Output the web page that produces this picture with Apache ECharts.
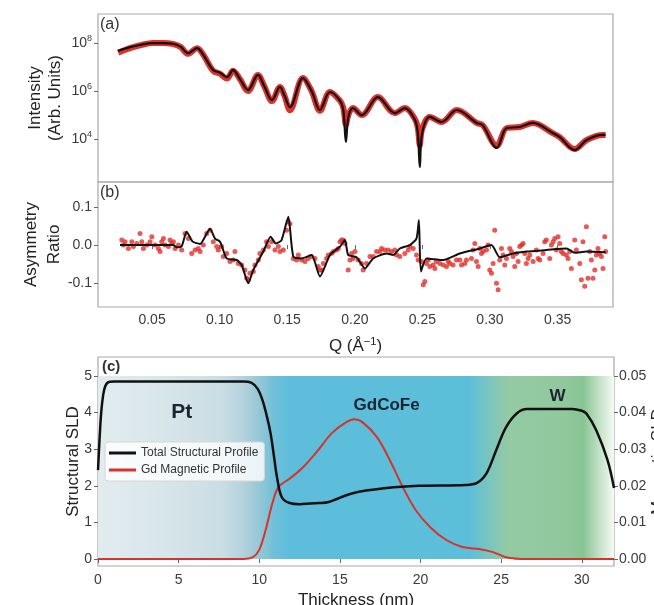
<!DOCTYPE html>
<html>
<head>
<meta charset="utf-8">
<script src="https://cdn.jsdelivr.net/npm/echarts@6/dist/echarts.min.js"></script>
<style>
html, body { margin: 0; padding: 0; background: #fff; }
#chart { width: 654px; height: 605px; }
</style>
</head>
<body>
<div id="chart"></div>
<script>
// (a) reflectivity: Q and log10(intensity)
var qFit = [0.0249,0.0337,0.042,0.0507,0.058,0.0655,0.071,0.0766,0.0833,0.088,0.0951,0.1003,0.1054,0.1099,0.115,0.121,0.1283,0.133,0.1387,0.1446,0.148,0.152,0.1616,0.168,0.1742,0.1816,0.189,0.1915,0.1934,0.1952,0.1986,0.2052,0.217,0.2296,0.237,0.244,0.2465,0.2481,0.2497,0.2555,0.2643,0.2754,0.2902,0.2946,0.305,0.3124,0.322,0.3316,0.3464,0.3516,0.3626,0.3715,0.3833,0.3855];
var logIFit = [7.67,7.83,7.93,8.0,8.0,7.97,7.85,7.58,7.79,7.5,6.88,6.76,6.58,6.87,6.5,6.04,6.67,6.2,5.62,6.17,5.8,5.33,6.54,6.0,5.21,5.96,5.6,5.2,3.88,4.9,5.29,5.0,5.75,5.08,5.29,4.85,4.3,2.83,4.2,4.92,4.71,5.21,4.67,4.58,3.63,4.46,4.5,4.67,4.25,4.08,3.54,3.96,4.17,4.17];
var qMeas = [0.0249,0.0337,0.042,0.0507,0.058,0.0655,0.071,0.0766,0.0833,0.088,0.0951,0.1003,0.1054,0.1099,0.115,0.121,0.1283,0.133,0.1387,0.1446,0.148,0.152,0.1616,0.168,0.1742,0.1816,0.189,0.1915,0.1934,0.1952,0.1986,0.2052,0.217,0.2296,0.237,0.244,0.2465,0.2481,0.2497,0.2555,0.2643,0.2754,0.2902,0.2946,0.305,0.3124,0.322,0.3316,0.3464,0.3516,0.3626,0.3715,0.3833,0.3855];
var logIMeas = [7.6,7.79,7.92,8.0,8.0,7.96,7.84,7.55,7.78,7.5,6.85,6.72,6.52,6.85,6.5,6.0,6.67,6.2,5.58,6.17,5.8,5.2,6.54,6.0,5.18,5.96,5.6,5.3,4.6,5.0,5.29,5.0,5.75,5.08,5.29,4.88,4.5,3.75,4.4,4.92,4.71,5.21,4.67,4.58,3.72,4.46,4.5,4.67,4.25,4.08,3.58,3.96,4.17,4.17];
var logTicks = [4, 6, 8];

// (b) asymmetry ratio
var asymFitQ = [0.0263,0.0658,0.0682,0.0719,0.0756,0.080,0.0855,0.0929,0.0966,0.1003,0.1052,0.1126,0.1163,0.1212,0.1249,0.1323,0.1377,0.1416,0.1458,0.1508,0.1545,0.1606,0.168,0.1742,0.1816,0.189,0.1927,0.1951,0.2013,0.2075,0.2136,0.2235,0.2284,0.2333,0.2407,0.2456,0.2474,0.2489,0.253,0.2654,0.2777,0.2925,0.3011,0.3072,0.3171,0.3269,0.3417,0.3565,0.3627,0.3713,0.3856];
var asymFit = [0,0,-0.006,-0.003,0.035,0.009,0.003,0.043,0.017,0.009,-0.035,-0.039,-0.052,-0.1,-0.065,-0.017,0.022,0.004,0.013,0.074,-0.03,-0.035,-0.026,-0.082,-0.026,-0.004,0.013,-0.026,-0.032,-0.061,-0.035,-0.022,-0.026,-0.009,0,0.017,0.065,-0.069,-0.035,-0.039,-0.022,-0.009,0,-0.032,-0.022,-0.017,-0.013,-0.009,-0.02,-0.017,-0.019];
var asymQ = [0.0276,0.0288,0.030,0.0325,0.035,0.0362,0.0387,0.0411,0.0424,0.0436,0.0461,0.0485,0.0498,0.0522,0.0547,0.0559,0.0571,0.0584,0.0596,0.0621,0.0633,0.0645,0.0658,0.067,0.0695,0.0719,0.0744,0.0769,0.0793,0.0818,0.0842,0.0855,0.0879,0.0904,0.0929,0.0953,0.0978,0.099,0.1015,0.1027,0.1052,0.1076,0.1101,0.1113,0.1138,0.1163,0.1187,0.12,0.1212,0.1224,0.1249,0.1261,0.1286,0.1298,0.1323,0.1347,0.136,0.1384,0.1409,0.1434,0.1446,0.1471,0.1495,0.1508,0.152,0.1545,0.1569,0.1582,0.1606,0.1631,0.1655,0.168,0.1705,0.1729,0.1742,
  0.1754,0.1767,0.1791,0.1804,0.1828,0.1841,0.1865,0.1878,0.189,0.1902,0.1914,0.1927,0.1951,0.1964,0.1976,0.1988,0.2001,0.2025,0.205,0.2062,0.2087,0.2112,0.2136,0.2161,0.2185,0.2198,0.2222,0.2247,0.2272,0.2296,0.2309,0.2333,0.237,0.2395,0.2407,0.2432,0.2456,0.2469,0.2493,0.2506,0.2518,0.253,0.2543,0.2555,0.258,0.2592,0.2604,0.2629,0.2654,0.2678,0.2691,0.2703,0.2727,0.2752,0.2777,0.2789,0.2814,0.2826,0.2863,0.2875,0.2888,0.29,0.2912,0.2925,0.2937,0.2949,0.2974,0.2986,0.2998,0.3011,0.3023,0.3035,0.3048,0.306,0.3072,0.3085,0.3097,0.3109,0.3122,0.3146,0.3159,0.3171,0.3183,0.3196,0.3208,0.322,0.3233,0.3245,0.3257,0.3269,0.3282,0.3294,0.3319,0.3343,0.3356,0.3368,0.3393,0.3405,0.3417,0.3442,0.3454,0.3467,0.3479,0.3491,0.3504,0.3516,0.3528,0.3541,0.3565,0.3577,0.359,0.3602,0.3627,0.3639,0.3664,0.3676,0.3688,0.3701,0.3713,0.3725,0.3738,0.375,0.3762,0.3775,0.3787,0.3799,0.3811,0.3824,0.3836,0.3849,0.3856];
var asymMeas = [0.013,0,0.009,-0.009,0.009,-0.004,0.004,0.03,0.009,-0.009,0,0.009,0.022,0,-0.009,-0.017,0.009,0.017,0,-0.004,0.013,0.004,0.009,-0.009,0,-0.013,0.03,0.017,-0.022,-0.013,-0.009,-0.017,0,0.03,0.039,0.009,-0.004,-0.013,-0.004,-0.03,-0.022,-0.043,-0.039,-0.017,-0.048,-0.052,-0.065,-0.087,-0.091,-0.074,-0.069,-0.052,-0.039,-0.022,-0.013,0.009,-0.004,0.009,-0.013,-0.004,-0.017,-0.013,0.039,0.061,0.056,-0.035,-0.039,-0.026,-0.039,-0.043,-0.035,-0.03,-0.035,-0.056,-0.065,
  -0.065,-0.048,-0.035,-0.026,-0.022,-0.017,-0.013,-0.009,0.009,0.013,0.013,0.004,-0.065,-0.039,-0.022,-0.035,-0.017,-0.039,-0.048,-0.065,-0.048,-0.03,-0.03,-0.017,-0.017,-0.009,-0.013,-0.013,-0.017,-0.013,-0.026,-0.03,-0.022,-0.013,-0.004,-0.009,-0.026,-0.039,-0.043,-0.104,-0.095,-0.048,-0.039,-0.056,-0.052,-0.061,-0.043,-0.048,-0.052,-0.056,-0.043,-0.048,-0.052,-0.039,-0.039,-0.052,-0.048,-0.039,-0.035,-0.013,0.004,-0.043,-0.056,-0.009,-0.022,-0.017,-0.013,0,-0.065,-0.074,-0.048,0.039,-0.1,-0.117,-0.039,-0.009,-0.026,-0.052,-0.035,-0.009,-0.017,-0.03,-0.056,-0.022,-0.043,-0.004,0,0.004,-0.022,-0.048,-0.035,-0.026,-0.043,-0.013,-0.035,-0.039,-0.022,0.009,0.013,-0.035,0,0.009,0.017,-0.013,0.022,0.004,-0.017,-0.022,-0.026,-0.035,-0.017,-0.061,0.013,-0.013,-0.048,-0.091,0.009,-0.108,0.048,-0.087,-0.017,-0.039,-0.087,-0.065,-0.026,-0.009,-0.022,-0.03,-0.061,0.022,-0.017];
var qTicks = [0.05, 0.10, 0.15, 0.20, 0.25, 0.30, 0.35];
var asymTicks = [-0.1, 0, 0.1];

// (c) depth profiles
var depthTotal = [0,0.1,0.2,0.37,0.6,1.0,5,9.0,9.5,9.9,10.2,10.5,10.7,10.9,11.1,11.4,11.9,12.5,13.7,14.3,15.8,17.9,19.9,22.8,23.5,24.1,24.7,25.3,26.0,26.6,29.4,30.0,30.3,30.9,31.6,32.0];
var sldTotal = [2.43,3.3,4.0,4.6,4.82,4.85,4.85,4.85,4.82,4.65,4.34,3.85,3.44,2.85,2.24,1.69,1.53,1.5,1.53,1.56,1.8,1.94,2.0,2.02,2.08,2.35,2.98,3.6,3.99,4.1,4.1,4.05,3.97,3.52,2.7,1.94];
var depthGd = [0,9.0,9.6,10.0,10.4,10.8,11.2,11.9,12.7,13.7,14.5,15.4,15.9,16.4,17.3,18.1,18.9,19.7,20.6,21.6,22.6,23.7,24.5,25.3,26.6,32];
var sldGd = [0,0,0.0005,0.0025,0.008,0.015,0.0197,0.022,0.025,0.03,0.0344,0.0374,0.0382,0.0374,0.0333,0.027,0.0197,0.0134,0.0087,0.0052,0.0033,0.0027,0.0019,0.0005,0,0];
var depthTicks = [0, 5, 10, 15, 20, 25, 30];
var sldTicks = [0, 1, 2, 3, 4, 5];
var magTicks = [0, 0.01, 0.02, 0.03, 0.04, 0.05];

function zip(a, b) { return a.map(function (v, i) { return [v, b[i]]; }); }

var FONT = 'Liberation Sans, Arial, sans-serif';
var tickLbl = { fontFamily: FONT, fontSize: 14, color: '#3a3a3a' };
var nameStyle = { fontFamily: FONT, fontSize: 17, color: '#222', lineHeight: 20 };

var myChart = echarts.init(document.getElementById('chart'));
var option = {
  animation: false,
  backgroundColor: '#fff',
  textStyle: { fontFamily: FONT },
  grid: [
    { left: 98, top: 14, width: 515, height: 168, outerBoundsMode: 'none', show: true, borderColor: '#a8a8a8', borderWidth: 1.2 },
    { left: 98, top: 182, width: 515, height: 125, outerBoundsMode: 'none', show: true, borderColor: '#a8a8a8', borderWidth: 1.2 },
    { left: 98, top: 357, width: 516, height: 209, outerBoundsMode: 'none', show: true, borderColor: '#a8a8a8', borderWidth: 1.2 }
  ],
  xAxis: [
    { gridIndex: 0, type: 'value', min: 0.010, max: 0.391, axisLine: { show: false }, axisTick: { show: false },
      axisLabel: { show: false }, splitLine: { show: false } },
    { gridIndex: 1, type: 'value', min: 0.010, max: 0.391, axisLine: { show: false },
      axisTick: { show: true, length: 4, lineStyle: { color: '#666' }, customValues: qTicks },
      axisLabel: Object.assign({ margin: 6, customValues: qTicks, formatter: function (v) { return v.toFixed(2); } }, tickLbl),
      splitLine: { show: false },
      name: 'Q (Å{sup|−1})', nameLocation: 'middle', nameGap: 29, nameMoveOverlap: false,
      nameTextStyle: Object.assign({ rich: { sup: { fontFamily: FONT, fontSize: 11, verticalAlign: 'top', lineHeight: 14, color: '#222' } } }, nameStyle) },
    { gridIndex: 2, type: 'value', min: 0, max: 32, axisLine: { show: false },
      axisTick: { show: true, length: 4, lineStyle: { color: '#666' }, customValues: depthTicks },
      axisLabel: Object.assign({ margin: 7, customValues: depthTicks }, tickLbl),
      splitLine: { show: false },
      name: 'Thickness (nm)', nameLocation: 'middle', nameGap: 24, nameMoveOverlap: false, nameTextStyle: nameStyle }
  ],
  yAxis: [
    { gridIndex: 0, type: 'value', min: 2.21, max: 9.21, axisLine: { show: false },
      axisTick: { show: true, length: 4, lineStyle: { color: '#666' }, customValues: logTicks },
      axisLabel: { margin: 6, customValues: logTicks, formatter: function (v) { return '{b|10}{s|' + v + '}'; },
        rich: { b: { fontFamily: FONT, fontSize: 14, color: '#3a3a3a', lineHeight: 18 },
                s: { fontFamily: FONT, fontSize: 9, color: '#3a3a3a', verticalAlign: 'top', lineHeight: 10 } } },
      splitLine: { show: false },
      name: 'Intensity\n(Arb. Units)', nameLocation: 'middle', nameRotate: 90, nameGap: 33, nameMoveOverlap: false,
      nameTextStyle: nameStyle },
    { gridIndex: 1, type: 'value', min: -0.162, max: 0.165, axisLine: { show: false },
      axisTick: { show: true, length: 4, lineStyle: { color: '#666' }, customValues: asymTicks },
      axisLabel: Object.assign({ margin: 6, customValues: asymTicks, formatter: function (v) { return v.toFixed(1); } }, tickLbl),
      splitLine: { show: false },
      name: 'Asymmetry\nRatio', nameLocation: 'middle', nameRotate: 90, nameGap: 32, nameMoveOverlap: false,
      nameTextStyle: Object.assign({}, nameStyle, { lineHeight: 23 }) },
    { gridIndex: 2, type: 'value', min: -0.19, max: 5.52, axisLine: { show: false },
      axisTick: { show: true, length: 4, lineStyle: { color: '#666' }, customValues: sldTicks },
      axisLabel: Object.assign({ margin: 6, customValues: sldTicks }, tickLbl),
      splitLine: { show: false },
      name: 'Structural SLD', nameLocation: 'middle', nameRotate: 90, nameGap: 15, nameMoveOverlap: false,
      nameTextStyle: nameStyle },
    { gridIndex: 2, type: 'value', position: 'right', min: -0.0019, max: 0.0552, axisLine: { show: false },
      axisTick: { show: true, length: 4, lineStyle: { color: '#666' }, customValues: magTicks },
      axisLabel: Object.assign({ margin: 5, customValues: magTicks, formatter: function (v) { return v.toFixed(2); } }, tickLbl),
      splitLine: { show: false },
      name: 'Magnetic SLD', nameLocation: 'middle', nameRotate: 90, nameGap: 34, nameMoveOverlap: false,
      nameTextStyle: nameStyle }
  ],
  legend: {
    data: ['Total Structural Profile', 'Gd Magnetic Profile'],
    orient: 'vertical', left: 105, top: 442,
    icon: 'rect', itemWidth: 27, itemHeight: 3, itemGap: 5,
    padding: [5, 6, 5, 4],
    backgroundColor: 'rgba(255,255,255,0.8)', borderColor: '#d6d6d6', borderWidth: 1, borderRadius: 3,
    textStyle: { fontFamily: FONT, fontSize: 12, color: '#333' }
  },
  graphic: [
    { type: 'text', left: 100, top: 17, style: { text: '(a)', font: '16px ' + FONT, fill: '#333' } },
    { type: 'text', left: 100, top: 185, style: { text: '(b)', font: '16px ' + FONT, fill: '#333' } },
    { type: 'text', left: 102, top: 359, style: { text: '(c)', font: 'bold 15px ' + FONT, fill: '#333' } }
  ],
  series: [
    { name: 'data a', type: 'line', xAxisIndex: 0, yAxisIndex: 0, data: zip(qMeas, logIMeas),
      showSymbol: false, smooth: 0.35, lineStyle: { color: '#e0302b', width: 6 }, itemStyle: { color: '#e0302b' } },
    { name: 'fit a', type: 'line', xAxisIndex: 0, yAxisIndex: 0, data: zip(qFit, logIFit),
      showSymbol: false, smooth: 0.35, lineStyle: { color: '#111', width: 2.2 }, itemStyle: { color: '#111' } },
    { name: 'data b', type: 'scatter', xAxisIndex: 1, yAxisIndex: 1, data: zip(asymQ, asymMeas),
      symbolSize: 5, itemStyle: { color: '#e0302b' } },
    { name: 'fit b', type: 'line', xAxisIndex: 1, yAxisIndex: 1, data: zip(asymFitQ, asymFit),
      showSymbol: false, smooth: 0.2, lineStyle: { color: '#111', width: 2 }, itemStyle: { color: '#111' } },
    { name: 'Total Structural Profile', type: 'line', xAxisIndex: 2, yAxisIndex: 2, data: zip(depthTotal, sldTotal),
      showSymbol: false, smooth: 0.35, lineStyle: { color: '#111', width: 2.5 }, itemStyle: { color: '#111' }, z: 4,
      markArea: {
        silent: true,
        itemStyle: { color: new echarts.graphic.LinearGradient(0, 0, 1, 0, [
          { offset: 0.00, color: '#e2ecef' },
          { offset: 0.12, color: '#d8e6ea' },
          { offset: 0.24, color: '#cadde4' },
          { offset: 0.28, color: '#b4d2dc' },
          { offset: 0.31, color: '#98c8d6' },
          { offset: 0.34, color: '#72c0d8' },
          { offset: 0.37, color: '#5dbddb' },
          { offset: 0.72, color: '#5cbfd9' },
          { offset: 0.76, color: '#7cc5bd' },
          { offset: 0.795, color: '#94caa3' },
          { offset: 0.91, color: '#90c89c' },
          { offset: 0.94, color: '#87c493' },
          { offset: 0.97, color: '#bfe0c4' },
          { offset: 1.00, color: '#f6fbf6' }
        ]) },
        data: [[{ coord: [0, 0] }, { coord: [32, 5] }]]
      },
      markPoint: {
        silent: true, symbol: 'circle', symbolSize: 0,
        label: { show: true, position: 'inside', fontFamily: FONT, fontWeight: 'bold', color: '#1c2430',
          formatter: function (p) { return p.name; } },
        data: [
          { name: 'Pt', coord: [5.2, 4.0], label: { fontSize: 21 } },
          { name: 'GdCoFe', coord: [17.9, 4.2], label: { fontSize: 17 } },
          { name: 'W', coord: [28.5, 4.45], label: { fontSize: 17 } }
        ]
      } },
    { name: 'Gd Magnetic Profile', type: 'line', xAxisIndex: 2, yAxisIndex: 3, data: zip(depthGd, sldGd),
      showSymbol: false, smooth: 0.35, lineStyle: { color: '#d9312b', width: 2 }, itemStyle: { color: '#d9312b' }, z: 3 }
  ]
};
myChart.setOption(option);
</script>
</body>
</html>
